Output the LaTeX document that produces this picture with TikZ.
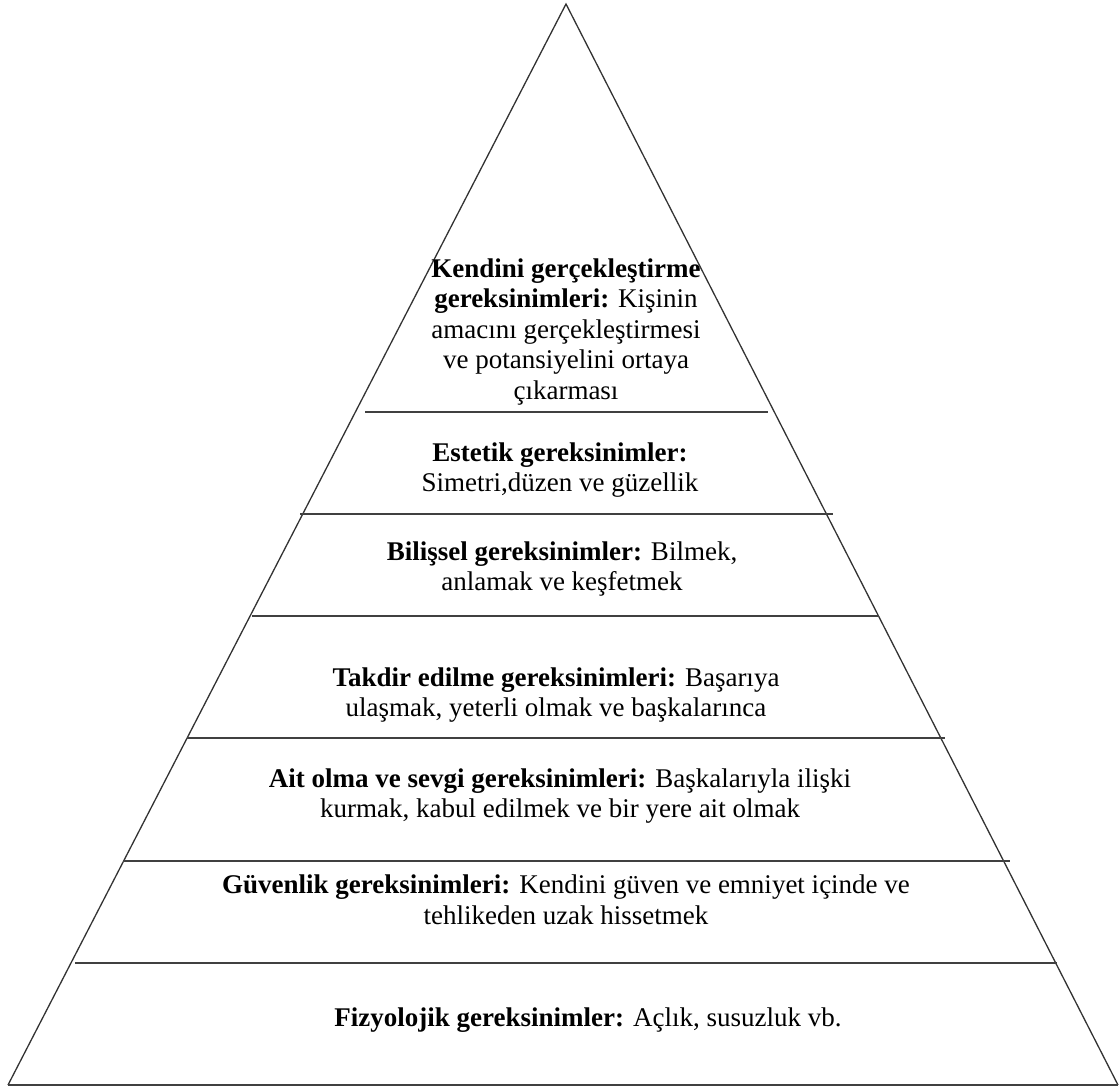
\documentclass[tikz,border=0pt]{standalone}
\usepackage{fontspec}
\setmainfont{Liberation Serif}
\tikzset{
  edge/.style={line width=1.3pt, draw=black!80, line join=miter},
  tier/.style={line width=1.7pt, draw=black!75},
  lbl/.style={align=center, inner sep=0pt, font=\fontsize{27}{30.5}\selectfont},
}
\begin{document}
\begin{tikzpicture}[x=1pt,y=-1pt]
\useasboundingbox (0,0) rectangle (1119,1086);
% pyramid outline
\coordinate (apex) at (566,4);
\coordinate (bl) at (8,1085);
\coordinate (br) at (1118,1085);
\draw[edge] (bl) -- (apex) -- (br);
\draw[tier] (bl) -- (br);
% tier lines
\draw[tier] (365,412) -- (768,412);
\draw[tier] (300,514) -- (833,514);
\draw[tier] (252,616) -- (879,616);
\draw[tier] (187,738) -- (945,738);
\draw[tier] (123,861) -- (1010,861);
\draw[tier] (75,963) -- (1057,963);
% texts
\node[lbl] (t1) at (566,332) {\textbf{Kendini gerçekleştirme}\\\textbf{gereksinimleri:} Kişinin\\amacını gerçekleştirmesi\\ve potansiyelini ortaya\\çıkarması};
\node[lbl] (t2) at (560,470) {\textbf{Estetik gereksinimler:}\\Simetri,düzen ve güzellik};
\node[lbl] (t3) at (562,569) {\textbf{Bilişsel gereksinimler:} Bilmek,\\anlamak ve keşfetmek};
\node[lbl] (t4) at (556,695) {\textbf{Takdir edilme gereksinimleri:} Başarıya\\ulaşmak, yeterli olmak ve başkalarınca};
\node[lbl] (t5) at (560,796) {\textbf{Ait olma ve sevgi gereksinimleri:} Başkalarıyla ilişki\\kurmak, kabul edilmek ve bir yere ait olmak};
\node[lbl] (t6) at (566,900) {\textbf{Güvenlik gereksinimleri:} Kendini güven ve emniyet içinde ve\\tehlikeden uzak hissetmek};
\node[lbl] (t7) at (588,1020) {\textbf{Fizyolojik gereksinimler:} Açlık, susuzluk vb.};
\end{tikzpicture}
\end{document}
